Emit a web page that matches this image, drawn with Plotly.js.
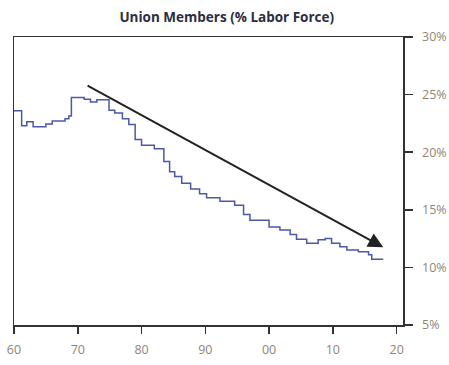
<!DOCTYPE html>
<html>
<head>
<meta charset="utf-8">
<script src="https://cdn.plot.ly/plotly-3.0.1.min.js"></script>
<style>html,body{margin:0;padding:0;background:#fff;}#chart{width:449px;height:365px;}</style>
</head>
<body>
<div id="chart"></div>
<script>
var years = [1960, 1961.2, 1962, 1963, 1965, 1966, 1968, 1968.6, 1969, 1971, 1972, 1973, 1974.9, 1975.8, 1977, 1978, 1979, 1980, 1982, 1983.5, 1984.4, 1985.2, 1986.3, 1987.7, 1989.1, 1990.2, 1992.3, 1994.6, 1996, 1997, 2000, 2001.7, 2003.3, 2004.3, 2005.9, 2007.7, 2008.8, 2009.8, 2011.1, 2012.2, 2014, 2015.6, 2016.1, 2017.9];
var unionShare = [23.6, 22.3, 22.65, 22.2, 22.45, 22.7, 22.9, 23.15, 24.75, 24.6, 24.35, 24.55, 23.65, 23.4, 22.9, 22.4, 21.1, 20.6, 20.3, 19.2, 18.3, 17.9, 17.3, 16.8, 16.4, 16.05, 15.75, 15.4, 14.6, 14.1, 13.5, 13.25, 12.85, 12.45, 12.1, 12.4, 12.5, 12.1, 11.8, 11.5, 11.35, 11.1, 10.7, 10.7];
var xTickVals = [1960, 1970, 1980, 1990, 2000, 2010, 2020];
var xTickText = ["60", "70", "80", "90", "00", "10", "20"];
var yTickVals = [5, 10, 15, 20, 25, 30];
var yTickText = ["5%", "10%", "15%", "20%", "25%", "30%"];
var trendStart = [1971.3, 25.85];
var trendEnd = [2017.9, 11.75];

var tickFont = {family: "Open Sans, sans-serif", size: 12.5, color: "#8f8576"};

var data = [{
  x: years, y: unionShare, type: "scatter", mode: "lines",
  line: {shape: "hv", color: "#4b58a8", width: 1.5},
  hoverinfo: "skip"
}];

var layout = {
  width: 449, height: 365,
  margin: {l: 14, r: 46, t: 37, b: 40, pad: 0},
  paper_bgcolor: "#fff", plot_bgcolor: "#fff",
  showlegend: false,
  title: {text: "<b>Union Members (% Labor Force)</b>", x: 0.505, xanchor: "center", y: 0.953, yanchor: "middle",
          font: {family: "Open Sans, sans-serif", size: 13.5, color: "#2b2d42"}},
  xaxis: {range: [1960, 2021], tickvals: xTickVals, ticktext: xTickText, showgrid: false, zeroline: false,
          showline: true, linecolor: "#333", linewidth: 1.5, mirror: true,
          ticks: "outside", ticklen: 7, tickwidth: 1.5, tickcolor: "#333", tickfont: tickFont, ticklabelstandoff: 5},
  yaxis: {range: [5, 30], side: "right", tickvals: yTickVals, ticktext: yTickText, showgrid: false, zeroline: false,
          showline: true, linecolor: "#333", linewidth: 1.5, mirror: true,
          ticks: "outside", ticklen: 8, tickwidth: 1.5, tickcolor: "#333", tickfont: tickFont, ticklabelstandoff: 7},
  annotations: [{
    x: trendEnd[0], y: trendEnd[1], ax: trendStart[0], ay: trendStart[1],
    xref: "x", yref: "y", axref: "x", ayref: "y",
    showarrow: true, arrowhead: 2, arrowsize: 1.5, arrowwidth: 2, arrowcolor: "#222", text: ""
  }]
};

Plotly.newPlot("chart", data, layout, {displayModeBar: false, staticPlot: true});
</script>
</body>
</html>
